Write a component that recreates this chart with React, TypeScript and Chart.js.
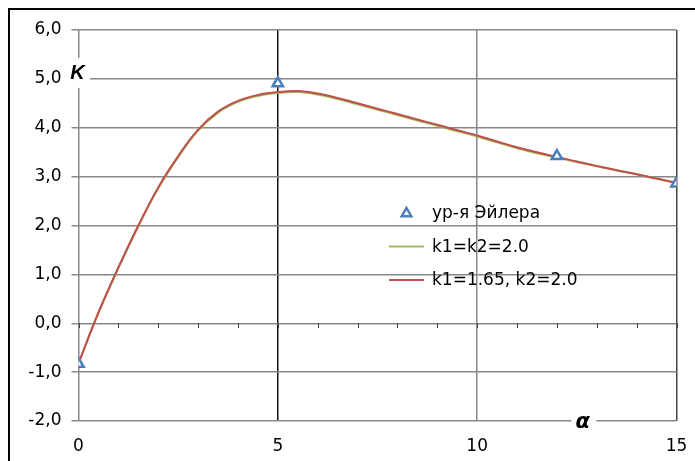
import React, { useEffect, useRef } from 'react';
import { Chart, registerables } from 'chart.js';

Chart.register(...registerables);

// ---- data ----
const alphaValues = [0, 0.5, 1, 1.5, 2, 2.5, 3, 3.5, 4, 4.5, 5, 5.5, 6, 6.5, 7, 7.5, 8, 8.5, 9, 9.5, 10, 10.5, 11, 11.5, 12, 12.5, 13, 13.5, 14, 14.5, 15];
const kRed = [-0.82, 0.22, 1.14, 2.0, 2.78, 3.42, 3.96, 4.33, 4.55, 4.67, 4.73, 4.75, 4.7, 4.61, 4.5, 4.39, 4.28, 4.17, 4.06, 3.95, 3.84, 3.72, 3.6, 3.5, 3.4, 3.31, 3.22, 3.13, 3.05, 2.96, 2.87];
const kGreen = [-0.82, 0.21, 1.13, 1.98, 2.76, 3.4, 3.94, 4.31, 4.53, 4.65, 4.71, 4.73, 4.68, 4.59, 4.48, 4.37, 4.26, 4.15, 4.04, 3.93, 3.82, 3.7, 3.58, 3.48, 3.39, 3.3, 3.21, 3.13, 3.05, 2.96, 2.87];
const eulerAlpha = [0, 5, 12, 15];
const eulerK = [-0.83, 4.91, 3.42, 2.86];
const xTickValues = [0, 5, 10, 15];
const yTickValues = [-2, -1, 0, 1, 2, 3, 4, 5, 6];
const yTickLabels = ['-2,0', '-1,0', '0,0', '1,0', '2,0', '3,0', '4,0', '5,0', '6,0'];
const seriesLabels = ['ур-я Эйлера', 'k1=k2=2.0', 'k1=1.65, k2=2.0'];
const axisTitleY = 'K';
const axisTitleX = 'α';

const FONT = '"DejaVu Sans", "Liberation Sans", Arial, sans-serif';
const BLUE = '#4a7ebb';
const GREEN = '#9bbb59';
const RED = '#c0504d';
const GRID = '#888888';

const xGridColors: Record<number, string> = { 0: '#888888', 5: '#111111', 10: '#888888', 15: '#444444' };

const decorPlugin = {
  id: 'decor',
  beforeDatasetsDraw(chart: any) {
    const { ctx, scales } = chart;
    const x = scales.x;
    const y = scales.y;
    const y0 = Math.round(y.getPixelForValue(0));
    ctx.save();
    ctx.strokeStyle = '#444444';
    ctx.lineWidth = 1;
    for (let i = 0; i <= 15; i++) {
      const px = Math.round(x.getPixelForValue(i)) + 0.5;
      ctx.beginPath();
      ctx.moveTo(px, y0);
      ctx.lineTo(px, y0 + 5);
      ctx.stroke();
    }
    ctx.restore();
  },
  afterDraw(chart: any) {
    const { ctx, scales } = chart;
    const x = scales.x;
    const y = scales.y;
    ctx.save();
    // outer frame (top + left)
    ctx.fillStyle = '#000000';
    ctx.fillRect(0, 0, chart.width, 2);
    ctx.fillRect(0, 0, 2, chart.height);

    // K label on y axis
    const kx = x.getPixelForValue(0) - 1;
    const ky = y.getPixelForValue(5) - 5;
    ctx.fillStyle = '#ffffff';
    ctx.fillRect(kx - 9.5, ky - 16, 22, 30);
    ctx.fillStyle = '#000000';
    ctx.font = 'bold italic 20px "Liberation Sans", Arial, sans-serif';
    ctx.textAlign = 'center';
    ctx.textBaseline = 'middle';
    ctx.fillText(axisTitleY, kx, ky);

    // alpha label on x axis
    const ax = x.getPixelForValue(12.5) + 6;
    const ay = y.getPixelForValue(-2) + 2;
    ctx.fillStyle = '#ffffff';
    ctx.fillRect(ax - 11.5, ay - 12, 25, 24);
    ctx.fillStyle = '#000000';
    ctx.font = 'bold italic 21px "DejaVu Sans", sans-serif';
    ctx.fillText(axisTitleX, ax, ay);

    // legend
    const ds = chart.data.datasets;
    const lx = 381;
    const rowY = [205.5, 239.5, 273];
    ctx.font = '17px ' + FONT;
    ctx.textAlign = 'left';
    ctx.textBaseline = 'middle';
    for (let i = 0; i < ds.length; i++) {
      const d = ds[i];
      const cy = rowY[i];
      if (i === 0) {
        const r = 5.5;
        const cx = lx + 17.5;
        ctx.beginPath();
        ctx.moveTo(cx, cy - r);
        ctx.lineTo(cx + r * 0.866, cy + r * 0.5);
        ctx.lineTo(cx - r * 0.866, cy + r * 0.5);
        ctx.closePath();
        ctx.fillStyle = d.pointBackgroundColor;
        ctx.fill();
        ctx.strokeStyle = d.pointBorderColor;
        ctx.lineWidth = 2.5;
        ctx.stroke();
      } else {
        ctx.strokeStyle = d.borderColor;
        ctx.lineWidth = 2;
        ctx.beginPath();
        ctx.moveTo(lx, cy - 1);
        ctx.lineTo(lx + 35, cy - 1);
        ctx.stroke();
      }
      ctx.fillStyle = '#000000';
      ctx.fillText(d.label, lx + 43, cy);
    }
    ctx.restore();
  },
};

export default function App() {
  const ref = useRef<HTMLCanvasElement>(null);

  useEffect(() => {
    if (!ref.current) return;
    const chart = new Chart(ref.current, {
      type: 'line',
      data: {
        datasets: [
          {
            label: seriesLabels[0],
            data: eulerAlpha.map((a, i) => ({ x: a, y: eulerK[i] })),
            showLine: false,
            pointStyle: 'triangle',
            pointRadius: 6,
            pointBorderWidth: 2.5,
            borderColor: BLUE,
            backgroundColor: '#ffffff',
            pointBackgroundColor: '#ffffff',
            pointBorderColor: BLUE,
            order: 0,
          },
          {
            label: seriesLabels[1],
            data: alphaValues.map((a, i) => ({ x: a, y: kGreen[i] })),
            borderColor: GREEN,
            backgroundColor: GREEN,
            borderWidth: 2,
            pointRadius: 0,
            tension: 0.4,
            order: 2,
          },
          {
            label: seriesLabels[2],
            data: alphaValues.map((a, i) => ({ x: a, y: kRed[i] })),
            borderColor: RED,
            backgroundColor: RED,
            borderWidth: 2,
            pointRadius: 0,
            tension: 0.4,
            order: 1,
          },
        ],
      },
      options: {
        responsive: false,
        animation: false,
        layout: { padding: { left: 0, top: 22, right: 18.5, bottom: 0 } },
        plugins: {
          legend: { display: false },
          tooltip: { enabled: false },
        },
        scales: {
          x: {
            type: 'linear',
            min: 0,
            max: 15,
            afterBuildTicks: (scale: any) => {
              scale.ticks = xTickValues.map((v) => ({ value: v }));
            },
            afterFit: (scale: any) => {
              scale.height = 40;
            },
            ticks: {
              color: '#000000',
              font: { family: FONT, size: 17 },
              padding: 3,
              maxRotation: 0,
              callback: (v: any) => String(v),
            },
            grid: {
              color: (c: any) => xGridColors[c.tick?.value] ?? GRID,
              lineWidth: 1.5,
              drawTicks: true,
              tickLength: 12,
              tickColor: 'rgba(0,0,0,0)',
            },
            border: { display: false },
          },
          y: {
            type: 'linear',
            min: -2,
            max: 6,
            afterBuildTicks: (scale: any) => {
              scale.ticks = yTickValues.map((v) => ({ value: v }));
            },
            afterFit: (scale: any) => {
              scale.width = 70.5;
            },
            ticks: {
              color: '#000000',
              font: { family: FONT, size: 17 },
              padding: 10,
              callback: (v: any) => yTickLabels[yTickValues.indexOf(Number(v))] ?? '',
            },
            grid: {
              color: GRID,
              lineWidth: 1.5,
              drawTicks: true,
              tickLength: 7,
              tickColor: GRID,
            },
            border: { display: false },
          },
        },
      },
      plugins: [decorPlugin],
    } as any);
    return () => chart.destroy();
  }, []);

  return (
    <div style={{ position: 'fixed', left: 8, top: 8, width: 687, height: 453, overflow: 'hidden', background: '#ffffff' }}>
      <canvas ref={ref} width={687} height={453} style={{ display: 'block' }} />
    </div>
  );
}
